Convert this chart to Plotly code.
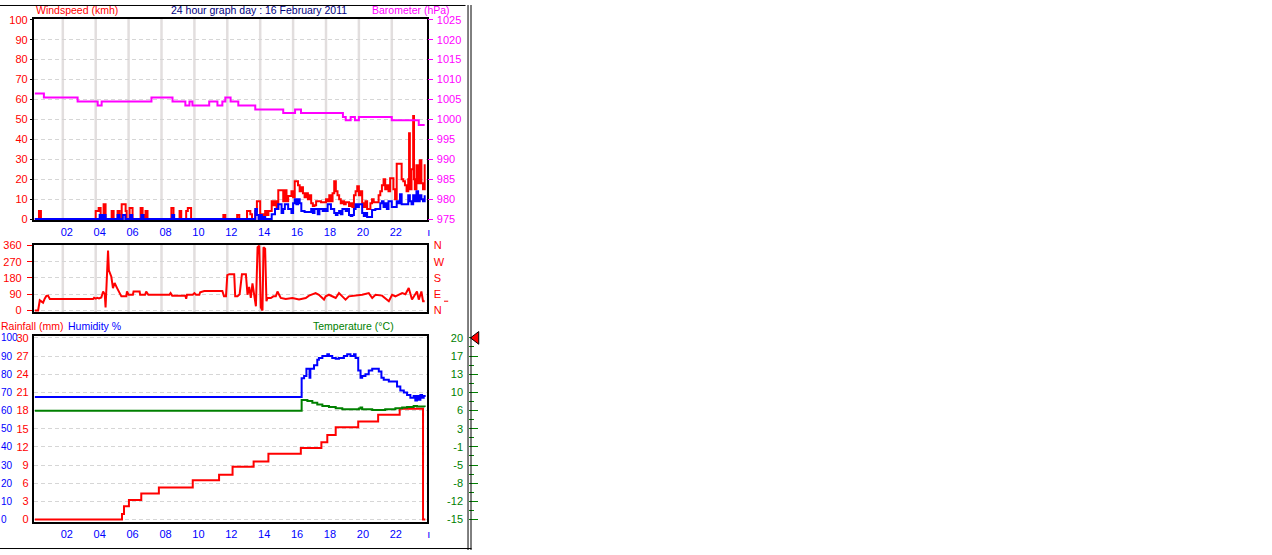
import plotly.graph_objects as go

W, H = 1272, 555
FONT = "Liberation Sans"

# ---------------- data ----------------
hour_ticks = [2, 4, 6, 8, 10, 12, 14, 16, 18, 20, 22, 24]
hour_labels = ['02', '04', '06', '08', '10', '12', '14', '16', '18', '20', '22', 'ı']
grid_hours = [2, 4, 6, 8, 10, 12, 14, 16, 18, 20, 22]

# Barometer (hPa), step line
baro_hours = [0.3, 0.85, 2.9, 4.12, 4.36, 7.39, 8.67, 9.45, 9.7, 9.88, 10.9, 11.4, 11.7, 11.88,
              12.2, 12.67, 13.7, 15.4, 16.12, 16.48, 19.03, 19.2, 19.5, 19.76, 20.0, 22.0, 23.64, 24.0]
baro_hpa = [1006.5, 1005.5, 1004.5, 1003.5, 1004.5, 1005.5, 1004.5, 1003.5, 1004.5, 1003.5, 1004.5,
            1003.5, 1004.5, 1005.5, 1004.5, 1003.5, 1002.5, 1001.6, 1002.5, 1001.6, 1000.6, 999.8,
            1000.6, 999.8, 1000.6, 999.8, 998.6, 998.6]

# Wind gust (kmh)
gust_sparse_hours = [0.3, 0.55, 0.67, 4.0, 4.18, 4.3, 4.48, 4.6, 4.97, 5.09, 5.33, 5.45, 5.58, 5.82,
                     5.88, 6.06, 6.24, 6.73, 6.85, 6.97, 7.03, 7.15, 8.6, 8.73, 9.1, 9.2, 9.5, 9.6,
                     9.8, 11.76, 11.88, 12.6, 12.73]
gust_sparse_kmh = [0, 4, 0, 4, 5.5, 0, 7.5, 0, 4, 0, 4, 0, 7.5, 4,
                   0, 5.5, 0, 5.5, 2, 0, 4, 0, 5.5, 0, 4, 0, 4, 5.5,
                   0, 2, 0, 2, 0]
gust_dense_start = 12.8   # sampled every 0.1 h
gust_dense_kmh = [0, 0, 0, 0, 4, 4, 2.4, 0, 0, 4, 9, 9,
                  2, 2.4, 0, 4, 2, 4, 4, 9, 7, 9,
                  5, 14.5, 14.5, 14.5, 9, 14.5, 9, 11.6, 11.6, 14,
                  11, 19, 19, 17, 14, 16, 13, 11, 13, 10,
                  12, 8, 6.5, 7, 9, 9, 9, 8.4, 8.4, 8.4,
                  10, 9, 12, 9, 13, 19, 14, 12, 10, 8,
                  9, 7.5, 8.4, 8.4, 6.5, 8, 6, 12, 14, 16.5,
                  12, 14, 8, 6, 9, 5, 5, 8, 10, 8.4,
                  8.4, 8.4, 12, 14, 17, 20, 15, 17, 14, 20.5,
                  20.5, 15, 10, 27.7, 27.7, 27.7, 20, 19, 17, 14,
                  20]
gust_tail_hours = [23.05, 23.1, 23.2, 23.3, 23.35, 23.4, 23.5, 23.6, 23.7, 23.8, 23.9, 24.0]
gust_tail_kmh = [43, 15, 25, 51.7, 20, 15, 27, 18, 29.5, 18, 15, 27.5]

# Wind average (kmh)
avg_sparse_hours = [0.3, 4.24, 4.36, 4.48, 4.6, 5.33, 5.45, 5.65, 5.8, 6.1, 6.22, 6.78, 6.9, 8.65, 8.77]
avg_sparse_kmh = [0, 2, 0, 2, 0, 2, 0, 2, 0, 2, 0, 2, 0, 2, 0]
avg_dense_start = 12.8    # sampled every 0.1 h
avg_dense_kmh = [0, 0, 0, 0, 0, 0, 0, 0, 0, 5, 2, 0,
                 2, 0, 1, 0, 0, 0, 0, 2.4, 2.4, 5,
                 5, 7.5, 7.5, 3, 5, 7.5, 7.5, 5, 5, 3,
                 8, 10, 7.5, 10, 8, 4, 4, 3.5, 3.5, 3.5,
                 3.5, 5, 3, 5, 5, 2.4, 5, 5, 4, 5,
                 4, 7.5, 7.5, 5, 5, 3, 2, 3, 4, 2.4,
                 5, 5, 4, 5, 2, 1.5, 2, 5, 7.5, 6,
                 7.5, 7.5, 3, 1.5, 3, 1, 1, 1, 4.5, 4.5,
                 5, 5, 5, 8, 9, 6, 8, 5, 9, 9,
                 6, 6, 6, 9, 8, 12.4, 7.5, 7.5, 7.5, 7.5,
                 12, 9, 7.5, 12, 9, 14, 9, 12, 10, 9,
                 12]

# Wind direction (degrees)
dir_hours = [0.3, 0.5, 0.6, 0.7, 0.8, 0.9, 1.0, 1.1, 1.21, 3.84, 3.9, 4.0, 4.1, 4.2, 4.34, 4.45,
             4.55, 4.6, 4.75, 4.8, 4.95, 5.05, 5.15, 5.3, 5.41, 5.56, 5.86, 5.9, 6.0, 6.26, 6.3,
             6.67, 6.7, 7.0, 7.07, 7.2, 8.48, 8.55, 8.65, 9.45, 9.5, 9.55, 9.9, 10.0, 10.1, 10.3,
             10.35, 10.6, 11.7, 11.8, 11.92, 12.0, 12.12, 12.42, 12.48, 12.62, 12.75, 12.89,
             13.13, 13.23, 13.33, 13.43, 13.53, 13.63, 13.74, 13.84, 13.94, 14.04, 14.14, 14.2,
             14.3, 14.38, 14.44, 14.65, 14.8, 14.95, 15.05, 15.15, 15.25, 15.55, 15.96, 16.36,
             16.77, 16.97, 17.37, 17.57, 17.78, 17.88, 17.98, 18.18, 18.59, 18.79, 18.99, 19.19,
             19.39, 19.8, 20.2, 20.6, 20.81, 21.01, 21.41, 21.82, 22.02, 22.22, 22.63, 22.83,
             23.03, 23.23, 23.33, 23.53, 23.64, 23.8, 23.9, 24.0]
dir_deg = [0, 0, 56, 48, 43, 65, 80, 82, 63, 63, 70, 65, 70, 67, 72, 105,
           90, 16, 333, 223, 187, 124, 152, 124, 105, 78, 78, 105, 87, 87, 105,
           105, 87, 87, 105, 87, 87, 96, 82, 82, 65, 87, 87, 96, 87, 87,
           101, 108, 108, 78, 78, 196, 201, 201, 78, 78, 90, 201,
           201, 87, 130, 70, 150, 100, 23, 351, 360, 16, 0, 351,
           343, 51, 69, 69, 78, 78, 105, 87, 69, 63, 69, 60,
           69, 82, 96, 87, 69, 60, 78, 87, 69, 96, 78, 60,
           78, 82, 87, 96, 69, 87, 82, 51, 87, 78, 96, 90,
           124, 60, 78, 105, 60, 105, 51, 51]

# Humidity (%)
hum_hours = [0.3, 16.5, 16.52, 16.67, 16.81, 16.97, 17.0, 17.05, 17.13, 17.27, 17.47, 17.57, 17.78,
             18.08, 18.18, 18.38, 18.59, 18.79, 19.09, 19.29, 19.49, 19.7, 19.8, 19.96, 20.1, 20.2,
             20.4, 20.6, 20.81, 21.01, 21.21, 21.37, 21.51, 21.82, 22.12, 22.32, 22.52, 22.73,
             22.93, 23.13, 23.33, 23.43, 23.53, 23.64, 23.74, 23.84, 23.94, 24.0]
hum_pct = [67.4, 67.4, 77.8, 79, 83, 83, 78, 83, 83, 85, 88, 89, 90,
           91, 90, 89, 88.5, 89, 90, 91, 90, 91, 89, 82, 78, 79,
           80, 82, 83, 83, 81.5, 78, 77, 76, 76, 73.3, 71, 70,
           68.5, 67, 68, 65.6, 68, 66, 68.5, 67, 68, 67.4]

# Temperature (°C)
temp_hours = [0.3, 16.52, 16.87, 17.17, 17.47, 17.78, 18.18, 18.59, 18.99, 20.0, 20.1, 20.2, 20.81,
              21.6, 22.22, 22.63, 22.93, 23.33, 23.53, 24.0]
temp_c = [5.94, 8.02, 7.84, 7.51, 7.19, 6.89, 6.70, 6.44, 6.25, 6.38, 6.57, 6.25, 6.13,
          6.25, 6.44, 6.57, 6.70, 6.89, 6.76, 6.70]
temp_pointer = 20.0

# Rainfall (mm)
rain_hours = [0.3, 5.6, 5.72, 6.02, 6.77, 7.84, 9.9, 11.5, 12.32, 13.6, 14.5, 16.47, 17.72, 18.08,
              18.59, 19.96, 21.17, 22.48, 23.9, 24.04]
rain_mm = [0, 0.92, 2.2, 3.24, 4.3, 5.3, 6.5, 7.4, 8.7, 9.57, 10.87, 11.8, 12.76, 13.95,
           15.24, 16.2, 17.3, 18.3, 0, 0]

# --------------- assemble series ---------------
gust_hours = gust_sparse_hours + [round(gust_dense_start + 0.1 * i, 2) for i in range(len(gust_dense_kmh))] + gust_tail_hours
gust_kmh = gust_sparse_kmh + gust_dense_kmh + gust_tail_kmh
avg_hours = avg_sparse_hours + [round(avg_dense_start + 0.1 * i, 2) for i in range(len(avg_dense_kmh))]
avg_kmh = avg_sparse_kmh + avg_dense_kmh


def fx(px):
    return px / W


def fy(py):
    return 1 - py / H


RED, BLUE, MAG, GREEN, NAVY = '#FF0000', '#0000FF', '#FF00FF', '#008000', '#000080'
GRID_H = '#D6D6D6'
GRID_V = '#E2DEDE'
XR = [0.242, 24.12]

fig = go.Figure()
# top panel
fig.add_trace(go.Scatter(x=baro_hours, y=baro_hpa, mode='lines', line=dict(color=MAG, width=2, shape='hv'),
                         xaxis='x', yaxis='y2'))
fig.add_trace(go.Scatter(x=gust_hours, y=gust_kmh, mode='lines', line=dict(color=RED, width=2, shape='hv'),
                         xaxis='x', yaxis='y'))
fig.add_trace(go.Scatter(x=avg_hours, y=avg_kmh, mode='lines', line=dict(color=BLUE, width=2, shape='hv'),
                         xaxis='x', yaxis='y'))
# middle panel
fig.add_trace(go.Scatter(x=dir_hours, y=dir_deg, mode='lines', line=dict(color=RED, width=2),
                         xaxis='x2', yaxis='y3'))
# current-direction dash beside the compass letters
fig.add_trace(go.Scatter(x=[0.5], y=[dir_deg[-1]], mode='markers',
                         marker=dict(symbol='line-ew', size=3, line=dict(color=RED, width=1)),
                         xaxis='x4', yaxis='y4'))
# bottom panel
fig.add_trace(go.Scatter(x=hum_hours, y=hum_pct, mode='lines', line=dict(color=BLUE, width=2, shape='hv'),
                         xaxis='x3', yaxis='y5'))
fig.add_trace(go.Scatter(x=temp_hours, y=temp_c, mode='lines', line=dict(color=GREEN, width=2, shape='hv'),
                         xaxis='x3', yaxis='y7'))
fig.add_trace(go.Scatter(x=rain_hours, y=rain_mm, mode='lines', line=dict(color=RED, width=2, shape='hv'),
                         xaxis='x3', yaxis='y6'))
# temperature pointer on the temperature scale
fig.add_trace(go.Scatter(x=[0.5], y=[temp_pointer], mode='markers', cliponaxis=False,
                         marker=dict(symbol='triangle-left', size=11, color=RED, line=dict(color='black', width=1)),
                         xaxis='x5', yaxis='y7'))


def tickfont(c, size=11):
    return dict(family=FONT, size=size, color=c)


xbase = dict(range=XR, showgrid=False, zeroline=False, showline=True, linecolor='black', linewidth=2,
             mirror=True, ticks='', tickvals=hour_ticks, ticktext=hour_labels, tickfont=tickfont(BLUE),
             ticklabelshift=4, ticklabelstandoff=1, domain=[fx(34), fx(428)])
ybase = dict(zeroline=False, showline=True, linecolor='black', linewidth=2, mirror=True,
             showgrid=True, gridcolor=GRID_H, griddash='4px,3px', gridwidth=1)
xhidden = dict(visible=False, range=[0, 1], fixedrange=True, showgrid=False, zeroline=False)

tv_temp = [-15 + 3.5 * i for i in range(11)]
tt_temp = ['-15', '-12', '-8', '-5', '-1', '3', '6', '10', '13', '17', '20']

fig.update_layout(
    width=W, height=H, margin=dict(l=0, r=0, t=0, b=0, pad=0),
    paper_bgcolor='white', plot_bgcolor='rgba(0,0,0,0)', showlegend=False,
    xaxis=dict(xbase, anchor='y'),
    yaxis=dict(ybase, domain=[fy(219), fy(14)], range=[-0.49, 100.5], anchor='x',
               tickvals=list(range(0, 101, 10)), tickfont=tickfont(RED),
               ticks='outside', ticklen=2, tickcolor='black', ticklabelstandoff=0),
    yaxis2=dict(overlaying='y', side='right', anchor='x', range=[974.755, 1025.25],
                tickvals=list(range(975, 1026, 5)), tickfont=tickfont(MAG), ticks='outside', ticklen=5,
                tickcolor=MAG, showgrid=False, zeroline=False, showline=False, ticklabelstandoff=2),
    xaxis2=dict(xbase, anchor='y3', showticklabels=False),
    yaxis3=dict(ybase, domain=[fy(313), fy(244)], range=[-10.9, 365.5], anchor='x2',
                tickvals=[0, 90, 180, 270, 360], tickfont=tickfont(RED), ticks='outside', ticklen=5,
                tickcolor=RED, ticklabelstandoff=3),
    yaxis4=dict(overlaying='y3', side='right', anchor='x2', range=[-10.9, 365.5],
                tickvals=[0, 90, 180, 270, 360], ticktext=['N', 'E', 'S', 'W', 'N'],
                tickfont=tickfont(RED), ticks='', showgrid=False, zeroline=False, ticklabelstandoff=6),
    xaxis4=dict(xhidden, domain=[fx(444), fx(451)], anchor='y4'),
    xaxis3=dict(xbase, anchor='y5'),
    yaxis5=dict(domain=[fy(526), fy(337)], range=[-1.08, 101.08], anchor='free', position=0, side='right',
                tickvals=list(range(0, 101, 10)), tickfont=tickfont(BLUE, 10), ticks='', showline=False,
                zeroline=False, showgrid=True, gridcolor=GRID_H, griddash='4px,3px', gridwidth=1,
                ticklabelstandoff=0),
    yaxis6=dict(overlaying='y5', side='left', anchor='x3', range=[-0.324, 30.32],
                tickvals=list(range(0, 31, 3)), tickfont=tickfont(RED), ticks='', showgrid=False,
                zeroline=False, showline=True, linecolor='black', linewidth=2, mirror=True,
                ticklabelstandoff=1),
    yaxis7=dict(overlaying='y5', side='left', anchor='free', position=fx(469.5),
                range=[-15.378, 20.378], tickvals=tv_temp, ticktext=tt_temp, tickfont=tickfont(GREEN),
                ticks='inside', ticklen=9, tickcolor=GREEN, tickwidth=1, showgrid=False, zeroline=False,
                showline=False, ticklabelstandoff=5,
                minor=dict(ticks='inside', ticklen=5, tickcolor=GREEN, tickwidth=1,
                           tickvals=[t + 1.75 for t in tv_temp[:-1]])),
    xaxis5=dict(xhidden, domain=[fx(471), fx(484)], anchor='y7'),
)

shapes = []
for h in grid_hours:
    shapes.append(dict(type='line', xref='x', yref='y domain', x0=h, x1=h, y0=0, y1=1,
                       line=dict(color=GRID_V, width=2.5), layer='below'))
    shapes.append(dict(type='line', xref='x2', yref='y3 domain', x0=h, x1=h, y0=0, y1=1,
                       line=dict(color=GRID_V, width=2.5), layer='below'))
# outer frame
for px in (469.5, 472.5):
    shapes.append(dict(type='line', xref='paper', yref='paper', x0=fx(px), x1=fx(px), y0=0, y1=1,
                       line=dict(color='black', width=1)))
shapes.append(dict(type='line', xref='paper', yref='paper', x0=0, x1=fx(467), y0=fy(0.5), y1=fy(0.5),
                   line=dict(color='black', width=1)))
shapes.append(dict(type='line', xref='paper', yref='paper', x0=0, x1=fx(473), y0=fy(553.5), y1=fy(553.5),
                   line=dict(color='black', width=1)))
fig.update_layout(shapes=shapes)


def label(text, px, py, color, anchor='left', size=10.5):
    return dict(text=text, x=fx(px), y=fy(py), xref='paper', yref='paper', xanchor=anchor, yanchor='middle',
                showarrow=False, font=dict(family=FONT, size=size, color=color))


fig.update_layout(annotations=[
    label('Windspeed (kmh)', 34, 5.5, RED),
    label('24 hour graph day : 16 February 2011', 260, 5.5, NAVY, 'center'),
    label('Barometer (hPa)', 371, 5.5, MAG),
    label('Rainfall (mm)', -1, 327, RED),
    label('Humidity %', 66, 327, BLUE),
    label('Temperature (°C)', 312, 327, GREEN),
])

fig.write_html('out.html', config={'staticPlot': True, 'displayModeBar': False},
               post_script="document.documentElement.style.margin='0';document.body.style.margin='0';"
                           "document.body.style.padding='0';document.body.style.overflow='hidden';")
